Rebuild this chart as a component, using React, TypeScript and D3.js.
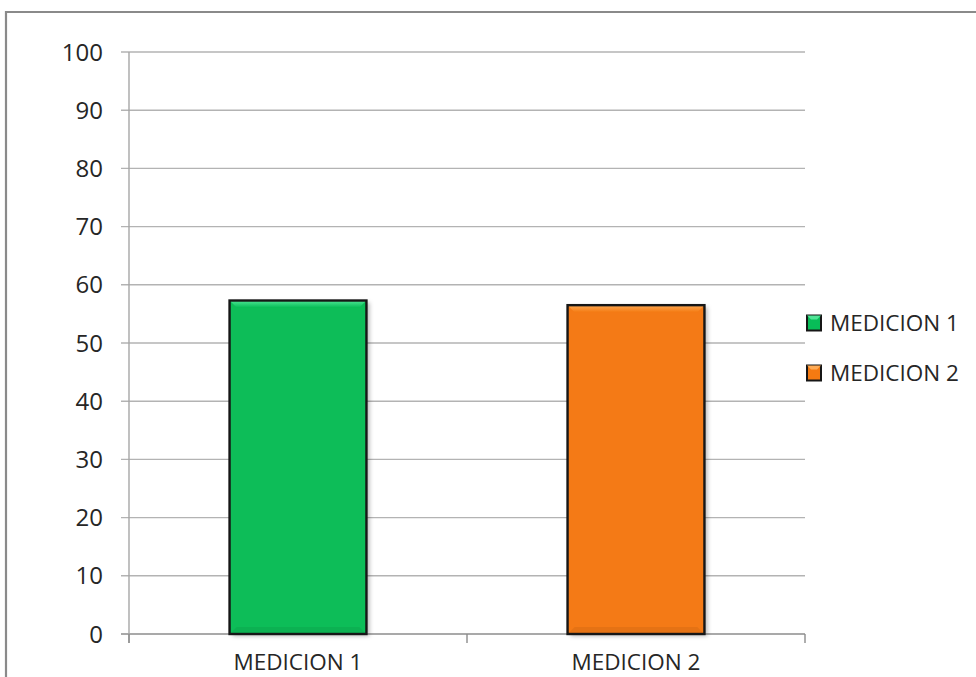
import React from "react";
import * as d3 from "d3";

// Chart data
const categories = ["MEDICION 1", "MEDICION 2"];
const values = [57.3, 56.5];
const yTicks = [0, 10, 20, 30, 40, 50, 60, 70, 80, 90, 100];
const seriesNames = ["MEDICION 1", "MEDICION 2"];
const barColors = ["#08bd58", "#f47a12"];
const bevelColors = ["#4fe596", "#ffab55"];

const W = 976;
const H = 677;
const FONT = "'Open Sans', 'Liberation Sans', sans-serif";
const TEXT = "#262626";

export default function App() {
  const left = 129;
  const right = 805;
  const top = 52;
  const bottom = 634;

  const y = d3.scaleLinear().domain([0, 100]).range([bottom, top]);
  const x = d3.scaleBand<string>().domain(categories).range([left, right]).padding(0);
  const barW = x.step() * 0.405;
  const bevel = 7;

  return (
    <svg
      width={W}
      height={H}
      style={{ position: "absolute", left: 0, top: 0, background: "#fff" }}
      fontFamily={FONT}
    >
      <defs>
        <filter id="barShadow" x="-10%" y="-10%" width="130%" height="130%">
          <feDropShadow dx="3" dy="2" stdDeviation="2" floodColor="#000" floodOpacity="0.28" />
        </filter>
        {categories.map((c, i) => (
          <linearGradient key={c} id={`bev${i}`} x1="0" y1="0" x2="0" y2="1">
            <stop offset="0%" stopColor={bevelColors[i]} />
            <stop offset="100%" stopColor={barColors[i]} />
          </linearGradient>
        ))}
      </defs>

      {/* chart frame */}
      <line x1={6} y1={12} x2={W} y2={12} stroke="#8a8a8a" strokeWidth={2.2} />
      <line x1={6} y1={11} x2={6} y2={H} stroke="#8a8a8a" strokeWidth={2.2} />

      {/* gridlines and value labels */}
      {yTicks.map((t) => (
        <g key={t}>
          <line
            x1={left - 8}
            x2={right}
            y1={y(t)}
            y2={y(t)}
            stroke={t === 0 ? "#8c8c8c" : "#b3b3b3"}
            strokeWidth={1.4}
          />
          <text x={103} y={y(t) + 8.5} textAnchor="end" fontSize={24} fill={TEXT}>
            {t}
          </text>
        </g>
      ))}

      {/* value axis */}
      <line x1={left} x2={left} y1={top} y2={bottom + 9} stroke="#a6a6a6" strokeWidth={1.4} />

      {/* category ticks */}
      {[...categories.map((c) => x(c)!), right].map((px, i) => (
        <line key={i} x1={px} x2={px} y1={bottom} y2={bottom + 9} stroke="#8c8c8c" strokeWidth={1.4} />
      ))}

      {/* bars */}
      {categories.map((c, i) => {
        const cx = x(c)! + x.bandwidth() / 2;
        const x0 = cx - barW / 2;
        const x1 = cx + barW / 2;
        const y0 = y(values[i]);
        const y1 = y(0);
        return (
          <g key={c}>
            <rect
              x={x0}
              y={y0}
              width={barW}
              height={y1 - y0}
              fill={barColors[i]}
              filter="url(#barShadow)"
            />
            <polygon
              points={`${x0},${y0} ${x1},${y0} ${x1 - bevel},${y0 + bevel} ${x0 + bevel},${y0 + bevel}`}
              fill={`url(#bev${i})`}
            />
            <polygon
              points={`${x0},${y1} ${x1},${y1} ${x1 - bevel},${y1 - bevel} ${x0 + bevel},${y1 - bevel}`}
              fill="#000"
              opacity={0.06}
            />
            <rect
              x={x0}
              y={y0}
              width={barW}
              height={y1 - y0}
              fill="none"
              stroke="#161616"
              strokeWidth={2.4}
            />
          </g>
        );
      })}

      {/* category labels */}
      {categories.map((c) => (
        <text
          key={c}
          x={x(c)! + x.bandwidth() / 2}
          y={670}
          textAnchor="middle"
          fontSize={22.5}
          fill={TEXT}
        >
          {c}
        </text>
      ))}

      {/* legend */}
      {seriesNames.map((s, i) => {
        const ly = 323 + i * 50;
        return (
          <g key={s}>
            <rect x={807} y={ly - 7.5} width={14} height={15} fill={barColors[i]} stroke="#161616" strokeWidth={2} />
            <polygon
              points={`${807},${ly - 7.5} ${821},${ly - 7.5} ${817},${ly - 3.5} ${811},${ly - 3.5}`}
              fill={bevelColors[i]}
            />
            <text x={830} y={ly + 8} fontSize={22.5} fill={TEXT}>
              {s}
            </text>
          </g>
        );
      })}
    </svg>
  );
}
